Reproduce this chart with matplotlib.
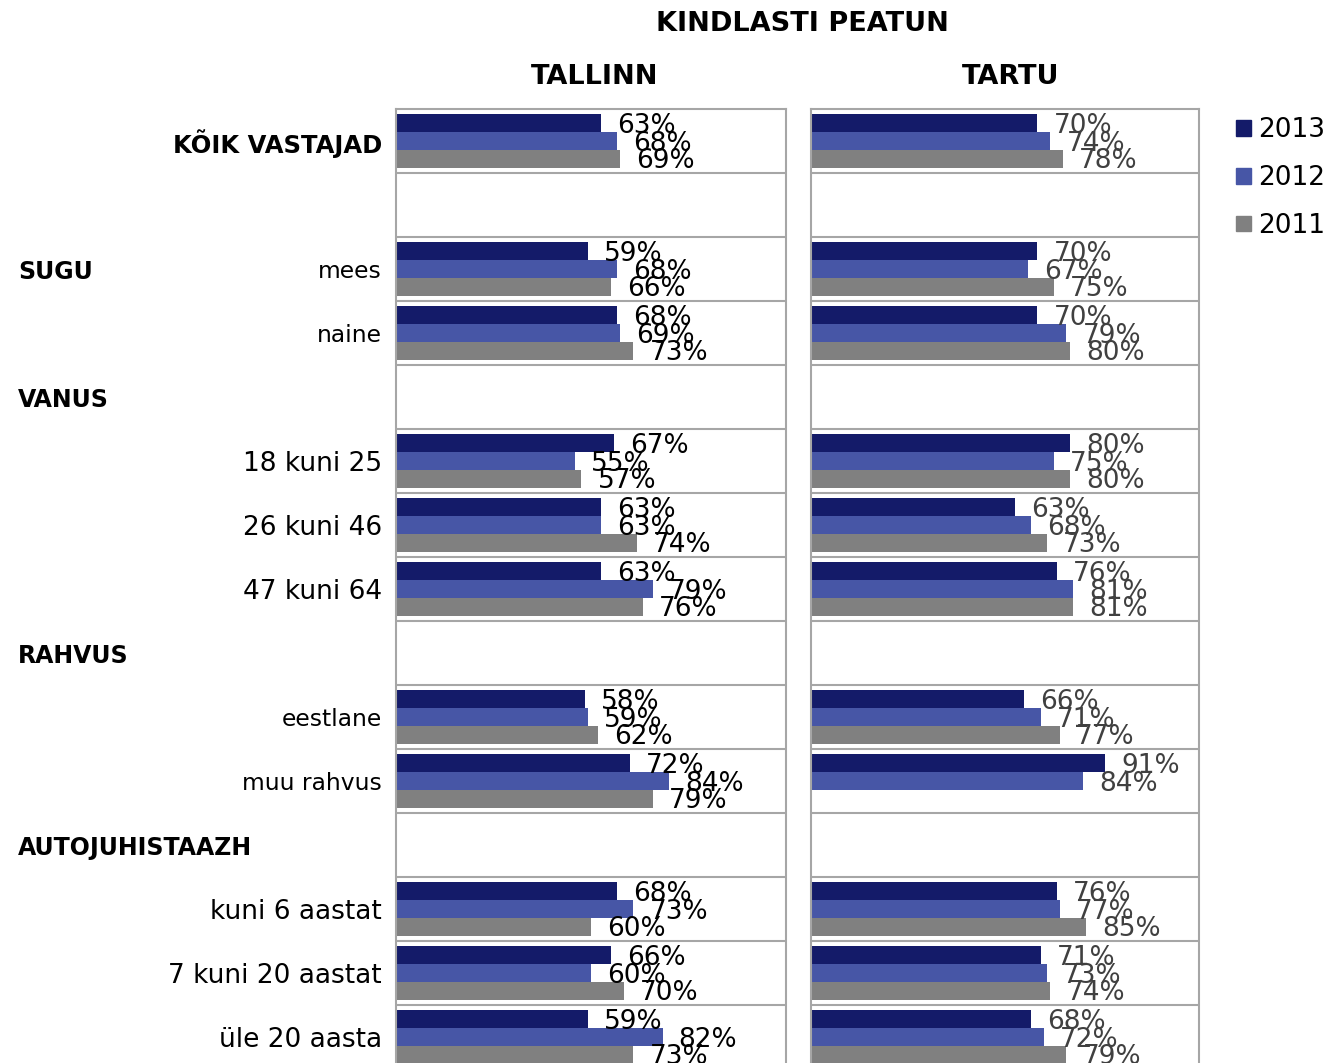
import matplotlib
matplotlib.use("Agg")
import matplotlib.pyplot as plt
import matplotlib.transforms as mtransforms
from matplotlib.patches import Patch
import numpy as np

# rows top to bottom (blank rows hold the group headers)
row_labels = ["KÕIK VASTAJAD", "", "mees", "naine", "",
              "18 kuni 25", "26 kuni 46", "47 kuni 64", "",
              "eestlane", "muu rahvus", "",
              "kuni 6 aastat", "7 kuni 20 aastat", "üle 20 aasta"]
group_headers = {2: "SUGU", 4: "VANUS", 8: "RAHVUS", 11: "AUTOJUHISTAAZH"}
years = ["2013", "2012", "2011"]
nan = np.nan

tallinn_2013 = [63, nan, 59, 68, nan, 67, 63, 63, nan, 58, 72, nan, 68, 66, 59]
tallinn_2012 = [68, nan, 68, 69, nan, 55, 63, 79, nan, 59, 84, nan, 73, 60, 82]
tallinn_2011 = [69, nan, 66, 73, nan, 57, 74, 76, nan, 62, 79, nan, 60, 70, 73]

tartu_2013 = [70, nan, 70, 70, nan, 80, 63, 76, nan, 66, 91, nan, 76, 71, 68]
tartu_2012 = [74, nan, 67, 79, nan, 75, 68, 81, nan, 71, 84, nan, 77, 73, 72]
tartu_2011 = [78, nan, 75, 80, nan, 80, 73, 81, nan, 77, nan, nan, 85, 74, 79]

colors = ["#141b69", "#4756a6", "#808080"]
grid_col = "#a6a6a6"

W, H = 1329, 1063
fig = plt.figure(figsize=(W / 100, H / 100), dpi=100)
fig.patch.set_facecolor("white")

top_px, row_px = 109, 64
n = len(row_labels)
ax_h = n * row_px / H
ax_bottom = 1 - (top_px + n * row_px) / H

ax1 = fig.add_axes([396 / W, ax_bottom, 390 / W, ax_h])
ax2 = fig.add_axes([811 / W, ax_bottom, 388 / W, ax_h])

y = np.arange(n)
bh = 0.28
offsets = [-bh, 0, bh]

for ax, series, txtcol in [(ax1, [tallinn_2013, tallinn_2012, tallinn_2011], "black"),
                           (ax2, [tartu_2013, tartu_2012, tartu_2011], "#404040")]:
    for vals, off, c in zip(series, offsets, colors):
        vals = np.array(vals, dtype=float)
        ax.barh(y + off, vals, height=bh, color=c, edgecolor="none")
        for yi, v in zip(y, vals):
            if not np.isnan(v):
                ax.text(v + 5, yi + off + 0.04, f"{v:.0f}%", ha="left", va="center",
                        fontsize=19, color=txtcol)
    ax.set_xlim(0, 120)
    ax.set_ylim(n - 0.5, -0.5)
    for b in np.arange(0.5, n - 0.5, 1):
        ax.axhline(b, color=grid_col, lw=1.5)
    for s in ax.spines.values():
        s.set_color(grid_col)
        s.set_linewidth(1.5)
    ax.set_xticks([])
    ax.tick_params(axis="y", length=0)

ax2.set_yticks([])
ax1.set_yticks(y)
ax1.set_yticklabels(row_labels)
ax1.tick_params(axis="y", pad=10)
for i, lab in enumerate(ax1.get_yticklabels()):
    txt = row_labels[i]
    if i == 0:
        lab.set_fontweight("bold")
        lab.set_fontsize(17.5)
    elif txt and txt[0].isdigit() or txt.startswith("kuni") or txt.startswith("üle"):
        lab.set_fontsize(19)
    else:
        lab.set_fontsize(16.8)

trans = mtransforms.blended_transform_factory(fig.transFigure, ax1.transData)
for row, name in group_headers.items():
    fig.text(18 / W, row + 0.04, name, transform=trans, ha="left", va="center",
             fontsize=17, fontweight="bold")

fig.text(802 / W, 1 - 24 / H, "KINDLASTI PEATUN", ha="center", va="center",
         fontsize=19.5, fontweight="bold")
fig.text(595 / W, 1 - 77 / H, "TALLINN", ha="center", va="center",
         fontsize=19.5, fontweight="bold")
fig.text(1011 / W, 1 - 77 / H, "TARTU", ha="center", va="center",
         fontsize=19.5, fontweight="bold")

handles = [Patch(color=c, label=yr) for c, yr in zip(colors, years)]
fig.legend(handles=handles, loc="upper left", bbox_to_anchor=(1236 / W, 1 - 117 / H),
           frameon=False, fontsize=19, handlelength=0.55, handleheight=0.55,
           handletextpad=0.3, labelspacing=0.83, borderpad=0, borderaxespad=0)

fig.savefig("out.png", dpi=100, facecolor="white")
